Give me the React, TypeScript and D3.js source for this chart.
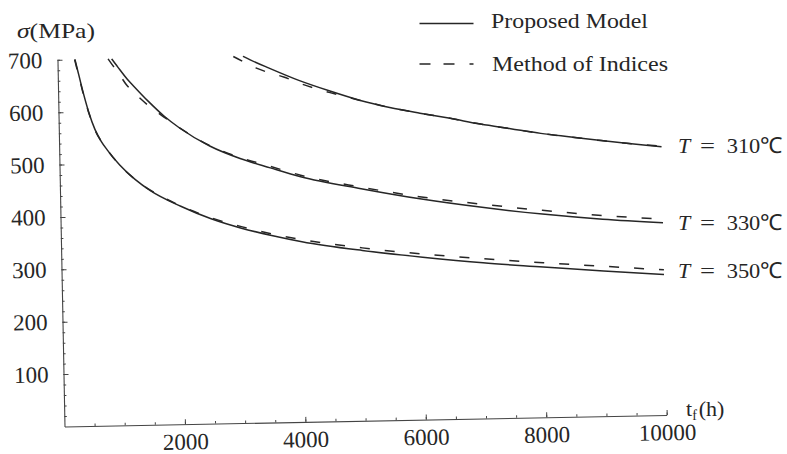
import React, { useEffect, useRef } from "react";
import * as d3 from "d3";

// T = 350 C
const tf350P = [290, 350, 420, 500, 600, 700, 800, 1000, 1250, 1500, 2000, 2500, 3000, 3500, 4000, 5000, 6000, 7000, 8000, 9000, 10000];
const sig350P = [700, 670, 635, 600, 566, 543, 526, 497, 469, 447, 416, 391, 372, 357, 344, 325, 310, 297, 287, 277, 268];
const tf350M = [285, 350, 420, 500, 600, 700, 800, 1000, 1250, 1500, 2000, 2500, 3000, 3500, 4000, 5000, 6000, 7000, 8000, 9000, 10000];
const sig350M = [700, 668, 633, 599, 565, 543, 526, 497, 469, 448, 417, 393, 375, 360, 348, 330, 316, 305, 295, 286, 277];

// T = 330 C
const tf330P = [900, 1000, 1150, 1250, 1500, 1750, 2000, 2500, 3000, 3500, 4000, 5000, 6000, 7000, 8000, 9000, 10000];
const sig330P = [700, 684, 661, 648, 617, 589, 566, 530, 505, 486, 468, 443, 421, 403, 388, 376, 367];
const tf330M = [840, 900, 1000, 1150, 1250, 1500, 1750, 2000, 2500, 3000, 3500, 4000, 5000, 6000, 7000, 8000, 9000, 10000];
const sig330M = [700, 690, 674, 648, 636, 609, 587, 566, 531, 507, 489, 471, 446, 425, 409, 395, 383, 374];

// T = 310 C
const tf310P = [3080, 3200, 3500, 4000, 4500, 5000, 5500, 6000, 6500, 7000, 7500, 8000, 8500, 9000, 9500, 10000];
const sig310P = [700, 693, 677, 652, 631, 612, 597, 585, 574, 562, 552, 542, 534, 526, 519, 512];
const tf310M = [2920, 3000, 3300, 3500, 3750, 4000, 4500, 5000, 5500, 6000, 6500, 7000, 7500, 8000, 8500, 9000, 9500, 10000];
const sig310M = [700, 695, 677, 668, 659, 647, 628, 612, 597, 585, 574, 562, 552, 542, 534, 526, 519, 513];

const xTicks = [2000, 4000, 6000, 8000, 10000];
const xMinor = d3.range(500, 10001, 500);
const yTicks = [100, 200, 300, 400, 500, 600, 700];
const yMinor = d3.range(20, 701, 20);

const tLabels = ["310℃", "330℃", "350℃"];
const legendLabels = ["Proposed Model", "Method of Indices"];

const zip = (t: number[], s: number[]) => t.map((v, i) => [v, s[i]] as [number, number]);

const curves = [
  { pts: zip(tf350P, sig350P), dashed: false },
  { pts: zip(tf350M, sig350M), dashed: true },
  { pts: zip(tf330P, sig330P), dashed: false },
  { pts: zip(tf330M, sig330M), dashed: true },
  { pts: zip(tf310P, sig310P), dashed: false },
  { pts: zip(tf310M, sig310M), dashed: true },
];

const FONT = "'Times New Roman', 'Liberation Serif', Tinos, serif";
const INK = "#262626";

const App = () => {
  const axRef = useRef<SVGGElement>(null);
  const x = d3.scaleLinear().domain([0, 10000]).range([0, 602.3]);
  const y = d3.scaleLinear().domain([0, 700]).range([0, -366.7]);
  const line = d3
    .line<[number, number]>()
    .x((d) => x(d[0]))
    .y((d) => y(d[1]))
    .curve(d3.curveMonotoneX);

  useEffect(() => {
    const g = d3.select(axRef.current);
    g.selectAll("*").remove();

    g.append("g").call(
      d3.axisBottom(x).tickValues(xMinor).tickSize(-2.5).tickSizeOuter(0).tickFormat(() => "")
    );
    const xa = g
      .append("g")
      .call(d3.axisBottom(x).tickValues(xTicks).tickSize(-5).tickPadding(9).tickFormat(d3.format("d")));
    xa.select(".domain").remove();

    g.append("g").call(
      d3.axisLeft(y).tickValues(yMinor).tickSize(-2.5).tickSizeOuter(0).tickFormat(() => "")
    );
    const ya = g
      .append("g")
      .call(d3.axisLeft(y).tickValues(yTicks).tickSize(-5).tickPadding(15).tickFormat(d3.format("d")));
    ya.select(".domain").remove();

    g.selectAll("path.domain").attr("stroke", "#444").attr("stroke-width", 1.1);
    g.selectAll(".tick line").attr("stroke", "#444").attr("stroke-width", 1);
    g.selectAll("text")
      .attr("font-family", FONT)
      .attr("font-size", 23)
      .attr("fill", INK);
  }, []);

  return (
    <svg width={787} height={454} style={{ position: "absolute", left: 0, top: 0, background: "#fff" }}>
      <g transform="translate(64.5,426.5) rotate(-1.1)">
        <g ref={axRef} />
        {curves.map((c, i) => (
          <path
            key={i}
            d={line(c.pts) || ""}
            fill="none"
            stroke={INK}
            strokeWidth={1.5}
            strokeDasharray={c.dashed ? "10 15" : undefined}
          />
        ))}
      </g>

      <g fontFamily={FONT} fill={INK} fontSize={22}>
        <text x={17} y={37.5} textLength={78} lengthAdjust="spacingAndGlyphs">
          <tspan fontStyle="italic">σ</tspan>(MPa)
        </text>

        <text x={686} y={416}>
          t<tspan fontSize={14} dy={4}>f</tspan>
          <tspan dx={2} dy={-4}>(h)</tspan>
        </text>

        <line x1={419.5} x2={473.5} y1={23.5} y2={23.5} stroke={INK} strokeWidth={1.3} />
        <text x={491} y={27.5} textLength={157} lengthAdjust="spacingAndGlyphs">{legendLabels[0]}</text>
        <line x1={419.5} x2={473.5} y1={64} y2={64} stroke={INK} strokeWidth={1.3} strokeDasharray="11 13 11 15" />
        <text x={492} y={70.5} textLength={176} lengthAdjust="spacingAndGlyphs">{legendLabels[1]}</text>

        {[153.3, 230, 278.3].map((by, i) => (
          <g key={i}>
            <text x={678} y={by} fontStyle="italic">T</text>
            <text x={700} y={by} textLength={15} lengthAdjust="spacingAndGlyphs">=</text>
            <text x={726.7} y={by} textLength={56} lengthAdjust="spacingAndGlyphs">{tLabels[i]}</text>
          </g>
        ))}
      </g>
    </svg>
  );
};

export default App;
